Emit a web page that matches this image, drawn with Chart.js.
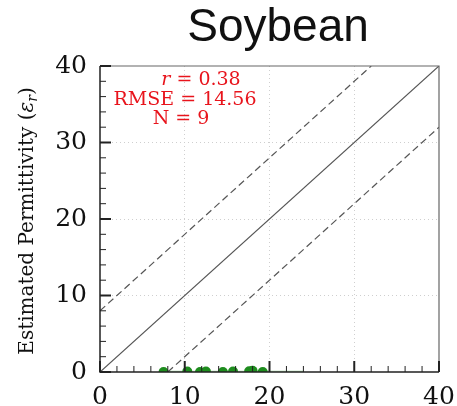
<!DOCTYPE html>
<html><head><meta charset="utf-8">
<script src="https://cdn.jsdelivr.net/npm/chart.js@4"></script>
<style>html,body{margin:0;padding:0;background:#fff}</style>
</head><body><canvas id="c" width="457" height="406"></canvas>
<script>
const chartTitle = "Soybean";
const axisMin = 0, axisMax = 40;
const majorTicks = [0, 10, 20, 30, 40];
const measuredX = [7.5, 10.3, 11.8, 12.5, 14.5, 15.7, 17.6, 18.0, 19.2];
const estimatedY = [0.0, 0.05, 0.0, 0.05, 0.0, 0.05, 0.1, 0.15, 0.0];
const oneToOneX = [0, 40], oneToOneY = [0, 40];
const upperX = [0, 32], upperY = [8, 40];
const lowerX = [8, 40], lowerY = [0, 32];
const fitX = [7.5, 24], fitY = [0.1, 0.1];
const statR = "0.38", statRMSE = "14.56", statN = "9";

const pts = (xs, ys) => xs.map((x, i) => ({x, y: ys[i]}));
const SERIF = "'DejaVu Serif'";

const decor = {
  id: 'decor',
  afterDraw(chart) {
    const {ctx, chartArea: a, scales: {x, y}} = chart;
    ctx.save();
    ctx.lineWidth = 1.2; ctx.strokeStyle = '#666';
    ctx.beginPath(); ctx.moveTo(a.left, a.top); ctx.lineTo(a.right, a.top); ctx.lineTo(a.right, a.bottom); ctx.stroke();
    ctx.lineWidth = 1.5; ctx.strokeStyle = '#222';
    ctx.beginPath(); ctx.moveTo(a.left, a.top); ctx.lineTo(a.left, a.bottom); ctx.lineTo(a.right, a.bottom); ctx.stroke();
    for (let v = axisMin; v <= axisMax; v += 2) {
      const major = majorTicks.includes(v);
      const len = major ? 11 : 6;
      ctx.lineWidth = major ? 2 : 1;
      ctx.strokeStyle = '#222';
      const px = x.getPixelForValue(v), py = y.getPixelForValue(v);
      ctx.beginPath(); ctx.moveTo(px, a.bottom); ctx.lineTo(px, a.bottom - len); ctx.stroke();
      ctx.beginPath(); ctx.moveTo(a.left, py); ctx.lineTo(a.left + len, py); ctx.stroke();
    }
    ctx.fillStyle = '#e8141c';
    ctx.textBaseline = 'alphabetic';
    const fs = 19;
    const drawParts = (parts, cx, by) => {
      let w = 0;
      parts.forEach(p => { ctx.font = p[1]; w += ctx.measureText(p[0]).width; });
      let sx = cx - w / 2;
      ctx.textAlign = 'left';
      parts.forEach(p => { ctx.font = p[1]; ctx.fillText(p[0], sx, by); sx += ctx.measureText(p[0]).width; });
    };
    drawParts([["r", `italic ${fs}px ${SERIF}`], [" = " + statR, `${fs}px ${SERIF}`]], 201, 85);
    drawParts([["RMSE = " + statRMSE, `${fs}px ${SERIF}`]], 185, 105);
    drawParts([["N = " + statN, `${fs}px ${SERIF}`]], 181, 124);
    ctx.fillStyle = '#111';
    ctx.font = "46px 'Liberation Sans'";
    ctx.textAlign = 'center';
    ctx.fillText(chartTitle, 278, 41);
    ctx.save();
    ctx.translate(33, (a.top + a.bottom) / 2 + 2);
    ctx.rotate(-Math.PI / 2);
    ctx.fillStyle = '#111';
    const yf = 20;
    const parts = [["Estimated Permittivity (", `${yf}px ${SERIF}`, 0], ["ε", `italic ${yf}px ${SERIF}`, 0], ["r", `italic ${yf*0.7}px ${SERIF}`, 4], [")", `${yf}px ${SERIF}`, 0]];
    let w = 0;
    parts.forEach(p => { ctx.font = p[1]; w += ctx.measureText(p[0]).width; });
    let sx = -w / 2;
    ctx.textAlign = 'left';
    parts.forEach(p => { ctx.font = p[1]; ctx.fillText(p[0], sx, p[2]); sx += ctx.measureText(p[0]).width; });
    ctx.restore();
    ctx.restore();
  }
};

const gridColor = c => (c.tick && [10, 20, 30].includes(c.tick.value)) ? '#cfcfcf' : 'rgba(0,0,0,0)';

new Chart(document.getElementById('c'), {
  type: 'scatter',
  data: {
    datasets: [
      {type: 'line', data: pts(oneToOneX, oneToOneY), borderColor: '#555', borderWidth: 1.2, pointRadius: 0, fill: false},
      {type: 'line', data: pts(upperX, upperY), borderColor: '#555', borderWidth: 1.2, borderDash: [7, 4], pointRadius: 0, fill: false},
      {type: 'line', data: pts(lowerX, lowerY), borderColor: '#555', borderWidth: 1.2, borderDash: [7, 4], pointRadius: 0, fill: false},
      {type: 'line', data: pts(fitX, fitY), borderColor: 'rgba(40,160,40,0.45)', borderWidth: 1.2, pointRadius: 0, fill: false, clip: 0},
      {data: pts(measuredX, estimatedY), backgroundColor: '#1e8c1e', borderColor: '#1e8c1e', pointRadius: 5, borderWidth: 0, clip: 0}
    ]
  },
  options: {
    responsive: false,
    animation: false,
    devicePixelRatio: 1,
    layout: {padding: {top: 66, right: 18, left: 0, bottom: 0}},
    plugins: {legend: {display: false}, tooltip: {enabled: false}, title: {display: false}},
    scales: {
      x: {
        type: 'linear', min: axisMin, max: axisMax,
        afterBuildTicks: s => { s.ticks = majorTicks.map(v => ({value: v})); },
        afterFit: s => { s.height = 34; s.paddingLeft = 0; s.paddingRight = 0; },
        ticks: {font: {family: 'DejaVu Serif', size: 25}, color: '#111', padding: 10, maxRotation: 0},
        grid: {color: gridColor, drawTicks: false, lineWidth: 1},
        border: {display: false, dash: [1, 3]}
      },
      y: {
        type: 'linear', min: axisMin, max: axisMax,
        afterBuildTicks: s => { s.ticks = majorTicks.map(v => ({value: v})); },
        afterFit: s => { s.width = 100; s.paddingTop = 0; s.paddingBottom = 0; },
        ticks: {font: {family: 'DejaVu Serif', size: 25}, color: '#111', padding: 13},
        grid: {color: gridColor, drawTicks: false, lineWidth: 1},
        border: {display: false, dash: [1, 3]}
      }
    }
  },
  plugins: [decor]
});
</script></body></html>
